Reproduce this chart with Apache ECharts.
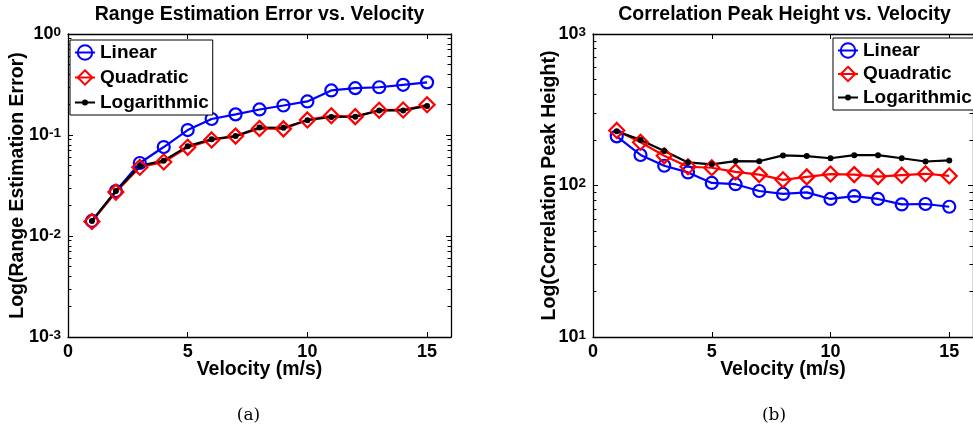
<!DOCTYPE html>
<html>
<head>
<meta charset="utf-8">
<script src="https://cdn.jsdelivr.net/npm/echarts@6/dist/echarts.min.js"></script>
<style>
  html, body { margin: 0; padding: 0; background: #ffffff; }
  #chart { width: 973px; height: 429px; }
</style>
</head>
<body>
<div id="chart"></div>
<script>
// Velocity sweep (m/s)
const velocity = [1, 2, 3, 4, 5, 6, 7, 8, 9, 10, 11, 12, 13, 14, 15];

// (a) Range estimation error per interpolation method
const rangeLinear      = [0.0141, 0.0279, 0.0528, 0.0760, 0.112, 0.144, 0.160, 0.179, 0.196, 0.215, 0.276, 0.291, 0.297, 0.314, 0.332];
const rangeQuadratic   = [0.0139, 0.0272, 0.0480, 0.0540, 0.0755, 0.0894, 0.0975, 0.116, 0.115, 0.141, 0.155, 0.152, 0.176, 0.177, 0.199];
const rangeLogarithmic = [0.0141, 0.0279, 0.0494, 0.0557, 0.0775, 0.0908, 0.0975, 0.1185, 0.118, 0.140, 0.151, 0.152, 0.175, 0.175, 0.194];

// (b) Correlation peak height per interpolation method
const peakLinear      = [211, 159, 135, 122, 104, 102, 92, 88, 90, 81.5, 85, 81.5, 75, 75.5, 72.4];
const peakQuadratic   = [231, 193, 157, 133, 131, 123, 118, 109, 114, 119, 118, 114.5, 117, 119.5, 115.6];
const peakLogarithmic = [228, 200, 169, 142, 138, 145, 144.5, 158, 156.5, 151.3, 158.5, 158.5, 151.3, 144, 146.5];

// Axis extents and captions
const rangeExtent = [0.001, 1];
const peakExtent = [10, 1000];
const velocityExtent = [0, 16];
const velocityStep = 5;
const seriesNames = ['Linear', 'Quadratic', 'Logarithmic'];
const panelTitles = ['Range Estimation Error vs. Velocity', 'Correlation Peak Height vs. Velocity'];
const panelCaptions = ['(a)', '(b)'];
const yNames = ['Log(Range Estimation Error)', 'Log(Correlation Peak Height)'];
const xName = 'Velocity (m/s)';

const SANS = '"Liberation Sans", Arial, Helvetica, sans-serif';
const SERIF = '"DejaVu Serif", "Liberation Serif", serif';
const BLUE = '#0000ff', RED = '#ff0000', BLACK = '#000000';

// 2..9 x 10^k between the decades of an extent
function minorLogTicks(extent) {
  const out = [];
  const e0 = Math.round(Math.log10(extent[0]));
  const e1 = Math.round(Math.log10(extent[1]));
  for (let e = e0; e < e1; e++) {
    for (let k = 2; k <= 9; k++) out.push(+(k * Math.pow(10, e)).toPrecision(6));
  }
  return out;
}

const frameLine = { show: true, onZero: false, lineStyle: { color: BLACK, width: 1.3 } };
const majorTick = { show: true, inside: true, length: 5, lineStyle: { color: BLACK, width: 1 } };

function xAxesFor(grid) {
  return [
    {
      gridIndex: grid, type: 'value', position: 'bottom',
      min: velocityExtent[0], max: velocityExtent[1], interval: velocityStep,
      axisLine: frameLine,
      axisTick: majorTick,
      axisLabel: {
        show: true, showMaxLabel: false, margin: 6,
        color: BLACK, fontFamily: SANS, fontWeight: 'bold', fontSize: 18
      },
      splitLine: { show: false },
      name: xName, nameLocation: 'middle', nameGap: 22.5, nameMoveOverlap: false,
      nameTextStyle: { color: BLACK, fontFamily: SANS, fontWeight: 'bold', fontSize: 19.5 }
    },
    {
      gridIndex: grid, type: 'value', position: 'top',
      min: velocityExtent[0], max: velocityExtent[1], interval: velocityStep,
      axisLine: frameLine,
      axisTick: majorTick,
      axisLabel: { show: false },
      splitLine: { show: false }
    }
  ];
}

// Hidden x axis for the overlay grids that only carry minor y ticks
function hiddenXAxis(grid) {
  return {
    gridIndex: grid, type: 'value', show: false,
    axisLine: { show: false, onZero: false },
    min: velocityExtent[0], max: velocityExtent[1]
  };
}

function yAxesFor(grid, extent, name, nameGap) {
  const base = {
    gridIndex: grid, type: 'log', logBase: 10,
    min: extent[0], max: extent[1], interval: 1,
    splitLine: { show: false }
  };
  return [
    Object.assign({}, base, {
      position: 'left',
      axisLine: frameLine,
      axisTick: majorTick,
      axisLabel: {
        show: true, margin: 7,
        formatter: function (v) {
          return '{b|10}{s|' + Math.round(Math.log10(v)) + '}';
        },
        rich: {
          b: { fontFamily: SANS, fontWeight: 'bold', fontSize: 18, color: BLACK, lineHeight: 18, verticalAlign: 'bottom' },
          s: { fontFamily: SANS, fontWeight: 'bold', fontSize: 13.5, color: BLACK, lineHeight: 13, verticalAlign: 'top', padding: [0, 0, 11.5, 0] }
        }
      },
      name: name, nameLocation: 'middle', nameGap: nameGap, nameMoveOverlap: false,
      nameTextStyle: { color: BLACK, fontFamily: SANS, fontWeight: 'bold', fontSize: 19.5 }
    }),
    Object.assign({}, base, {
      position: 'right',
      axisLine: frameLine,
      axisTick: majorTick,
      axisLabel: { show: false }
    })
  ];
}

// One minor-tick log axis per overlay grid, on the requested side
function minorYAxis(grid, extent, side) {
  return {
    gridIndex: grid, type: 'log', logBase: 10, position: side,
    min: extent[0], max: extent[1],
    splitLine: { show: false },
    axisLine: { show: false, onZero: false },
    axisLabel: { show: false },
    axisTick: { show: true, inside: true, length: 3.5, customValues: minorLogTicks(extent), lineStyle: { color: BLACK, width: 1 } }
  };
}

function pairs(ys) { return velocity.map((x, i) => [x, ys[i]]); }

function seriesFor(grid, lin, quad, logv) {
  const xi = grid * 2, yi = grid * 2;
  const common = { type: 'line', xAxisIndex: xi, yAxisIndex: yi, showSymbol: true, animation: false, emphasis: { disabled: true }, silent: true };
  return [
    Object.assign({}, common, {
      name: seriesNames[0], data: pairs(lin),
      symbol: 'circle', symbolSize: 12,
      lineStyle: { color: BLUE, width: 2.2 },
      itemStyle: { color: 'rgba(255,255,255,0)', borderColor: BLUE, borderWidth: 2.2 }
    }),
    Object.assign({}, common, {
      name: seriesNames[1], data: pairs(quad),
      symbol: 'diamond', symbolSize: 15,
      lineStyle: { color: RED, width: 2.2 },
      itemStyle: { color: 'rgba(255,255,255,0)', borderColor: RED, borderWidth: 2.2 }
    }),
    Object.assign({}, common, {
      name: seriesNames[2], data: pairs(logv),
      symbol: 'circle', symbolSize: 6,
      lineStyle: { color: BLACK, width: 2.2 },
      itemStyle: { color: BLACK, borderWidth: 0 }
    })
  ];
}

// Legend entry for the dotted black line: a bar with a small dot on it
const dotLineIcon = 'path://M0,1.9 L20,1.9 L20,4.1 L0,4.1 Z M7,3 A3,3 0 1,1 13,3 A3,3 0 1,1 7,3 Z';

function legendFor(left, top, gap) {
  return {
    orient: 'vertical', left: left, top: top,
    backgroundColor: '#ffffff', borderColor: BLACK, borderWidth: 1,
    padding: [3, 4, 3, 4], itemGap: gap, itemWidth: 20, itemHeight: 18, itemTextGap: 1,
    selectedMode: false,
    textStyle: { color: BLACK, fontFamily: SANS, fontWeight: 'bold', fontSize: 19 },
    data: [
      { name: seriesNames[0] },
      { name: seriesNames[1] },
      { name: seriesNames[2], icon: dotLineIcon }
    ]
  };
}

const panelRects = [
  { left: 68, top: 34, width: 383, height: 303 },
  { left: 593, top: 34, width: 383, height: 303 }
];

const option = {
  animation: false,
  backgroundColor: '#ffffff',
  // grids 0/1 hold the data; grids 2..5 overlay them to carry the minor log ticks
  grid: [panelRects[0], panelRects[1], panelRects[0], panelRects[0], panelRects[1], panelRects[1]],
  xAxis: [].concat(xAxesFor(0), xAxesFor(1), [hiddenXAxis(2), hiddenXAxis(3), hiddenXAxis(4), hiddenXAxis(5)]),
  yAxis: [].concat(
    yAxesFor(0, rangeExtent, yNames[0], 40),
    yAxesFor(1, peakExtent, yNames[1], 33.5),
    [
      minorYAxis(2, rangeExtent, 'left'),
      minorYAxis(3, rangeExtent, 'right'),
      minorYAxis(4, peakExtent, 'left'),
      minorYAxis(5, peakExtent, 'right')
    ]
  ),
  legend: [legendFor(70, 40, 6), legendFor(833, 38, 4.5)],
  series: [].concat(
    seriesFor(0, rangeLinear, rangeQuadratic, rangeLogarithmic),
    seriesFor(1, peakLinear, peakQuadratic, peakLogarithmic)
  ),
  graphic: [
    { type: 'text', x: 259.5, y: 15, style: { text: panelTitles[0], textAlign: 'center', textVerticalAlign: 'middle', fill: BLACK, font: 'bold 19.5px ' + SANS } },
    { type: 'text', x: 784.5, y: 15, style: { text: panelTitles[1], textAlign: 'center', textVerticalAlign: 'middle', fill: BLACK, font: 'bold 19.5px ' + SANS } },
    { type: 'text', x: 248.5, y: 415.5, style: { text: panelCaptions[0], textAlign: 'center', textVerticalAlign: 'middle', fill: BLACK, font: '17px ' + SERIF } },
    { type: 'text', x: 774, y: 415.5, style: { text: panelCaptions[1], textAlign: 'center', textVerticalAlign: 'middle', fill: BLACK, font: '17px ' + SERIF } }
  ]
};

const chart = echarts.init(document.getElementById('chart'), null, { renderer: 'canvas' });
chart.setOption(option);
</script>
</body>
</html>
